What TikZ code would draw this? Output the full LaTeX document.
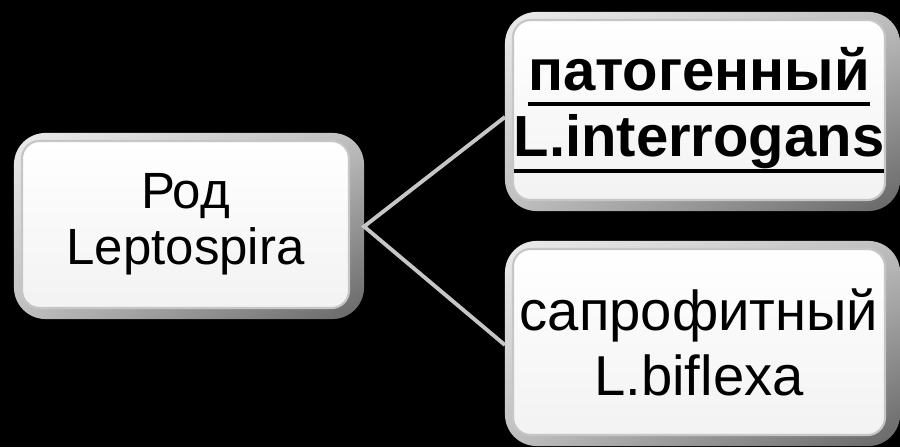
\documentclass[tikz,border=0pt]{standalone}
\usepackage{fontspec}
\setmainfont{Liberation Sans}
\usetikzlibrary{calc,backgrounds,shadings}
\newcommand\myul[1]{\setbox0\hbox{#1}\rlap{\raisebox{-4.6pt}{\rule{\wd0}{1.2pt}}}\box0}
\begin{document}
\begin{tikzpicture}[x=1cm,y=1cm,
  box/.style={rectangle, rounded corners=5pt, draw=gray!45, line width=0.6pt,
    top color=white, bottom color=gray!10, align=center, text=black, inner sep=0pt},
  bevel/.style={rounded corners=9pt, upper left=gray!15, upper right=gray!50,
    lower left=gray!50, lower right=gray!80!black},
  link/.style={draw=gray!45, line width=1.1pt}]
\useasboundingbox (0,0) rectangle (9,4.47);
\node[box, minimum width=3.27cm, minimum height=1.67cm,
  font=\fontsize{14.5}{15.8}\selectfont] (L) at (1.855,2.225) {Род\\Leptospira};
\node[box, minimum width=3.72cm, minimum height=1.80cm,
  font=\fontsize{16.5}{19}\selectfont\bfseries] (T) at (6.99,3.37)
  {\myul{патогенный}\\\myul{L.interrogans}};
\node[box, minimum width=3.72cm, minimum height=1.86cm,
  font=\fontsize{16}{18.5}\selectfont] (B) at (6.99,1.05) {сапрофитный\\L.biflexa};
\begin{scope}[on background layer]
  \fill[black] (0,0) rectangle (9,4.47);
  \foreach \n in {L,T,B}{
    \shade[bevel] ($(\n.north west)+(-0.07,0.07)$) rectangle ($(\n.south east)+(0.14,-0.10)$);
  }
\end{scope}
\coordinate (j) at ($(L.east)+(0.14,-0.02)$);
\draw[link] ($(T.west)+(-0.07,-0.07)$) -- (j) -- ($(B.west)+(-0.07,-0.03)$);
\end{tikzpicture}
\end{document}
